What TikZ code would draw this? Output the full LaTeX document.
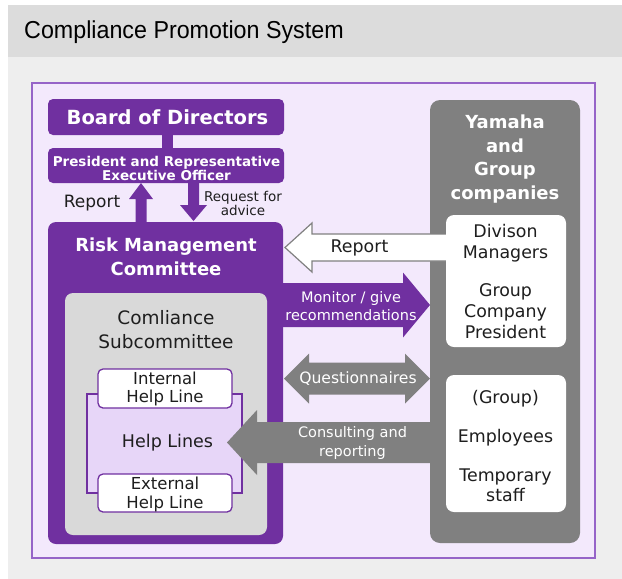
\documentclass[tikz,border=0pt]{standalone}
\usepackage{fontspec}
\setmainfont{DejaVu Sans}
\newfontfamily\titlefont{Liberation Sans}[FakeStretch=0.95]
\usetikzlibrary{calc}
\definecolor{hdrgray}{RGB}{220,220,220}
\definecolor{bodygray}{RGB}{238,238,238}
\definecolor{purp}{RGB}{112,48,160}
\definecolor{purpline}{RGB}{150,100,200}
\definecolor{lav}{RGB}{243,233,252}
\definecolor{lavdark}{RGB}{231,214,248}
\definecolor{midgray}{RGB}{128,128,128}
\definecolor{lightgray}{RGB}{217,217,217}
\definecolor{txt}{RGB}{30,30,30}
\newcommand\arrR[6]{\filldraw[#1] ($(#2)+(0,-#4)$) -- ($(#3)+(-#6,-#4)$) -- ($(#3)+(-#6,-#5)$) -- (#3) -- ($(#3)+(-#6,#5)$) -- ($(#3)+(-#6,#4)$) -- ($(#2)+(0,#4)$) -- cycle;}
\newcommand\arrL[6]{\filldraw[#1] ($(#2)+(0,-#4)$) -- ($(#3)+(#6,-#4)$) -- ($(#3)+(#6,-#5)$) -- (#3) -- ($(#3)+(#6,#5)$) -- ($(#3)+(#6,#4)$) -- ($(#2)+(0,#4)$) -- cycle;}
\newcommand\arrU[6]{\filldraw[#1] ($(#2)+(-#4,0)$) -- ($(#3)+(-#4,#6)$) -- ($(#3)+(-#5,#6)$) -- (#3) -- ($(#3)+(#5,#6)$) -- ($(#3)+(#4,#6)$) -- ($(#2)+(#4,0)$) -- cycle;}
\newcommand\arrD[6]{\filldraw[#1] ($(#2)+(-#4,0)$) -- ($(#3)+(-#4,-#6)$) -- ($(#3)+(-#5,-#6)$) -- (#3) -- ($(#3)+(#5,-#6)$) -- ($(#3)+(#4,-#6)$) -- ($(#2)+(#4,0)$) -- cycle;}
\newcommand\arrLR[6]{\filldraw[#1] (#2) -- ($(#2)+(#6,-#5)$) -- ($(#2)+(#6,-#4)$) -- ($(#3)+(-#6,-#4)$) -- ($(#3)+(-#6,-#5)$) -- (#3) -- ($(#3)+(-#6,#5)$) -- ($(#3)+(-#6,#4)$) -- ($(#2)+(#6,#4)$) -- ($(#2)+(#6,#5)$) -- cycle;}
\tikzset{
  box/.style={anchor=north west, inner sep=0pt, outer sep=0pt},
  lbl/.style={inner sep=0pt, align=center, text=txt},
  wlbl/.style={inner sep=0pt, align=center, text=white},
}
\begin{document}
\begin{tikzpicture}[x=1pt,y=-1pt]
\useasboundingbox (0,0) rectangle (622,579);
\fill[white] (0,0) rectangle (622,579);
% header and body
\node[box, fill=hdrgray, minimum width=614, minimum height=52] (hdr) at (8,5) {};
\node[box, fill=bodygray, minimum width=614, minimum height=522] (bodybg) at (8,57) {};
\node[anchor=west, inner sep=0pt, font=\titlefont\fontsize{24.5}{28}\selectfont, text=black] (title) at (24,32) {Compliance Promotion System};
% main frame
\node[box, fill=lav, draw=purpline, line width=2pt, minimum width=563, minimum height=475] (frame) at (32,83) {};
% board and president
\node[box, fill=purp, rounded corners=5pt, minimum width=236, minimum height=36] (bod) at (48,99) {};
\node[wlbl, font=\bfseries\fontsize{19.5}{22}\selectfont] (bodt) at (167.5,117) {Board of Directors};
\node[box, fill=purp, minimum width=11, minimum height=14] (bar) at (162,134.5) {};
\node[box, fill=purp, rounded corners=5pt, minimum width=236, minimum height=35] (pres) at (48,148) {};
\node[wlbl, font=\bfseries\fontsize{13.5}{14}\selectfont] (prest) at (166.5,168) {President and Representative\\Executive Officer};
% RMC
\node[box, fill=purp, rounded corners=8pt, minimum width=235, minimum height=322] (rmc) at (48,222) {};
\node[wlbl, font=\bfseries\fontsize{18}{24}\selectfont] (rmct) at (166,257) {Risk Management\\Committee};
\node[box, fill=lightgray, rounded corners=8pt, minimum width=202, minimum height=242] (cs) at (65,293) {};
\node[lbl, font=\fontsize{18.5}{24}\selectfont] (cst) at (166,330) {Comliance\\Subcommittee};
\node[box, fill=lavdark, draw=purp, line width=1.3pt, minimum width=155, minimum height=99] (hl) at (87,394) {};
\node[box, fill=white, draw=purp, line width=1.3pt, rounded corners=5pt, minimum width=134, minimum height=39] (ihl) at (98,369) {};
\node[box, fill=white, draw=purp, line width=1.3pt, rounded corners=5pt, minimum width=134, minimum height=38] (ehl) at (98,474) {};
\node[lbl, font=\fontsize{16.5}{18}\selectfont] (ihlt) at (165,389) {Internal\\Help Line};
\node[lbl, font=\fontsize{16.5}{19}\selectfont] (ehlt) at (165,494) {External\\Help Line};
% Yamaha group
\node[box, fill=midgray, rounded corners=10pt, minimum width=150, minimum height=443] (yam) at (430,100) {};
\node[wlbl, font=\bfseries\fontsize{18}{23.7}\selectfont] (yamt) at (505,159) {Yamaha\\and\\Group\\companies};
% connector anchor points
\coordinate (upS) at (rmc.north -| 141,0);
\coordinate (upE) at (pres.south -| 141,0);
\coordinate (dnS) at (pres.south -| 193.5,0);
\coordinate (dnE) at ($(rmc.north -| 193.5,0)+(0,-1)$);
\coordinate (repS) at ($(yam.west |- 0,247.5)+(18,0)$);
\coordinate (repE) at ($(rmc.east |- 0,247.5)+(2,0)$);
\coordinate (monS) at (rmc.east |- 0,305);
\coordinate (monE) at (yam.west |- 0,305);
\coordinate (qL) at ($(rmc.east |- 0,378.5)+(1,0)$);
\coordinate (qR) at (yam.west |- 0,378.5);
\coordinate (conS) at ($(yam.west |- 0,442.5)+(2,0)$);
\coordinate (conE) at ($(hl.east |- 0,442.5)+(-15,0)$);
% arrows
\arrU{purp, draw=none}{upS}{upE}{5.5}{12}{16}
\arrD{purp, draw=none}{dnS}{dnE}{5.5}{13.5}{16}
\arrL{white, draw=midgray, line width=1.2pt}{repS}{repE}{13.5}{24.5}{27}
\arrR{purp, draw=none}{monS}{monE}{22}{32.5}{27}
\arrLR{midgray, draw=none}{qL}{qR}{16}{25}{25}
\arrL{midgray, draw=none}{conS}{conE}{20.5}{32.5}{30}
\node[lbl, font=\fontsize{17.5}{21}\selectfont] (hlt) at (167.5,443) {Help Lines};
% white boxes
\node[box, fill=white, rounded corners=8pt, minimum width=120, minimum height=132] (wb1) at (446,215) {};
\node[box, fill=white, rounded corners=8pt, minimum width=120, minimum height=137] (wb2) at (446,375) {};
\node[lbl, font=\fontsize{17.4}{21}\selectfont] (divt) at (505.5,243) {Divison\\Managers};
\node[lbl, font=\fontsize{17.4}{21}\selectfont] (gcpt) at (505.5,311.5) {Group\\Company\\President};
\node[lbl, font=\fontsize{17.4}{21}\selectfont] (grpt) at (505.5,398.5) {(Group)};
\node[lbl, font=\fontsize{17.4}{21}\selectfont] (empt) at (505.5,437.5) {Employees};
\node[lbl, font=\fontsize{17.4}{20}\selectfont] (tmpt) at (505.5,485.5) {Temporary\\staff};
% arrow labels
\node[lbl, font=\fontsize{17}{20}\selectfont] (rept1) at (92,203) {Report};
\node[lbl, font=\fontsize{13.5}{14}\selectfont] (reqt) at (243,203) {Request for\\advice};
\node[lbl, font=\fontsize{17.4}{20}\selectfont] (rept2) at (359.5,247.5) {Report};
\node[wlbl, font=\fontsize{14.5}{18}\selectfont] (mont) at (351,306) {Monitor / give\\recommendations};
\node[wlbl, font=\fontsize{15.6}{18}\selectfont] (qt) at (358,378.5) {Questionnaires};
\node[wlbl, font=\fontsize{14.5}{19}\selectfont] (cont) at (352.5,442.5) {Consulting and\\reporting};
\end{tikzpicture}
\end{document}
